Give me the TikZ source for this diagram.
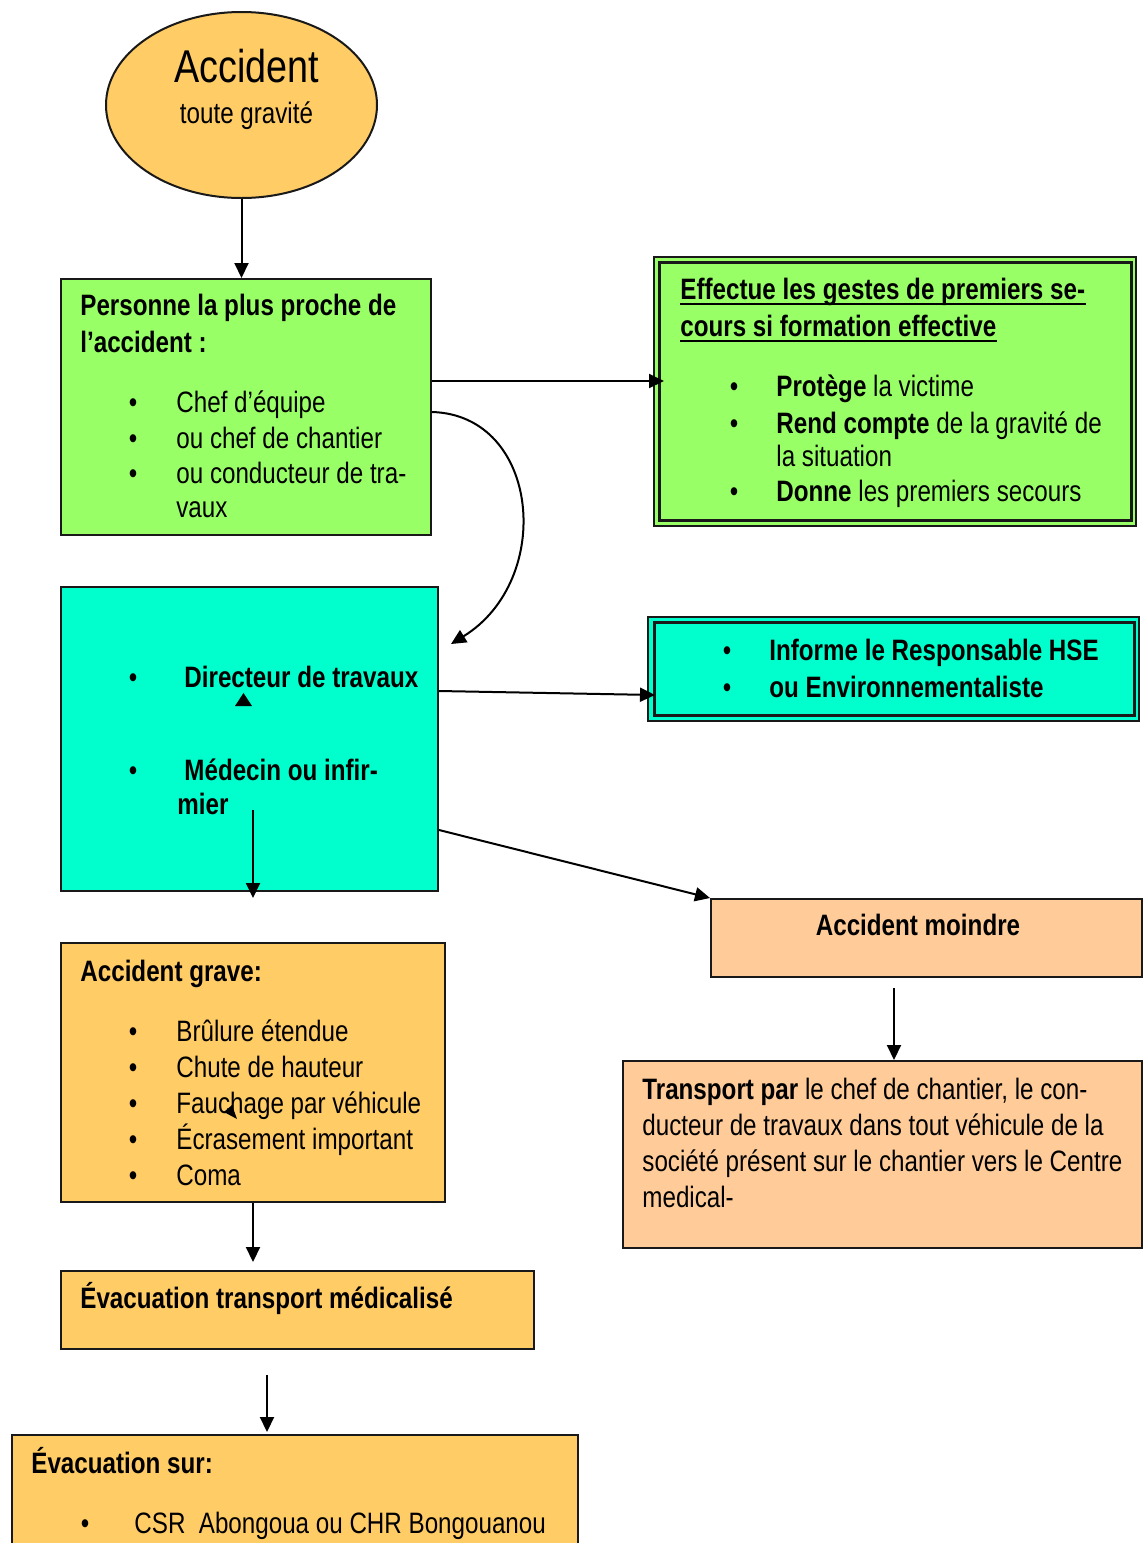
\documentclass[tikz,border=0pt]{standalone}
\usepackage{fontspec}
\setmainfont{Liberation Sans}[FakeStretch=0.82]
\usetikzlibrary{arrows.meta,shapes.geometric}
\definecolor{cvert}{HTML}{99FF66}
\definecolor{cturq}{HTML}{00FFCC}
\definecolor{corange}{HTML}{FFCC66}
\definecolor{cpeche}{HTML}{FFCC99}
\begin{document}
\begin{tikzpicture}[x=0.5pt,y=-0.5pt,
  boite/.style={draw=black!90, line width=1pt, inner sep=0pt, anchor=north west},
  txt/.style={anchor=base west, inner sep=0pt, font=\fontsize{14.75}{18}\selectfont},
  gras/.style={anchor=base west, inner sep=0pt, font=\fontsize{14.75}{18}\selectfont\bfseries},
  puce/.style={anchor=base, inner sep=0pt, font=\fontsize{14.75}{18}\selectfont},
  fleche/.style={line width=1pt, -{Triangle[length=7.5pt,width=7pt]}},
  souligne/.style={line width=1pt}]
\useasboundingbox (0,0) rectangle (1147,1543);
\clip (0,0) rectangle (1147,1543);
\fill[white] (0,0) rectangle (1147,1543);

% --- start ellipse
\node[ellipse, draw=black!90, line width=1pt, fill=corange,
      minimum width=135.5pt, minimum height=93pt, inner sep=0pt] (acc) at (241.5,105) {};
\node[anchor=base, inner sep=0pt, font=\fontsize{23}{26}\selectfont] (acct) at (246.5,82) {Accident};
\node[anchor=base, inner sep=0pt, font=\fontsize{14.75}{18}\selectfont] (accg) at (246.5,123) {toute gravité};

% --- nearest person
\node[boite, fill=cvert, minimum width=185pt, minimum height=128pt] (proche) at (60,278) {};
\node[gras] (proche1) at (80,315) {Personne la plus proche de};
\node[gras] (proche2) at (80,352) {l’accident :};
\foreach \y/\t [count=\i] in {412/{Chef d’équipe}, 448/{ou chef de chantier}, 483/{ou conducteur de tra-}} {
  \node[puce] (procheb\i) at (133,\y) {•};
  \node[txt] (prochei\i) at (176,\y) {\t};
}
\node[txt] (prochei4) at (176,517) {vaux};

% --- first aid box (double frame)
\node[boite, fill=cvert, line width=0.75pt, minimum width=241pt, minimum height=134.5pt] (secours) at (653,256) {};
\node[boite, line width=1.5pt, minimum width=236pt, minimum height=129pt] (secoursin) at (658,261) {};
\node[gras] (sec1) at (680,299) {Effectue les gestes de premiers se-};
\node[gras] (sec2) at (680,336) {cours si formation effective};
\draw[souligne] ([yshift=-2.5pt]sec1.base west) -- ([yshift=-2.5pt]sec1.base east);
\draw[souligne] ([yshift=-2.5pt]sec2.base west) -- ([yshift=-2.5pt]sec2.base east);
\node[puce] (secb1) at (734,396) {•};
\node[txt] (seci1) at (776,396) {\textbf{Protège} la victime};
\node[puce] (secb2) at (734,433) {•};
\node[txt] (seci2) at (776,433) {\textbf{Rend compte} de la gravité de};
\node[txt] (seci3) at (776,466) {la situation};
\node[puce] (secb3) at (734,501) {•};
\node[txt] (seci4) at (776,501) {\textbf{Donne} les premiers secours};

% --- director / doctor
\node[boite, fill=cturq, minimum width=188.5pt, minimum height=152pt] (dir) at (60,586) {};
\node[puce] (dirb1) at (133,687) {•};
\node[gras] (diri1) at (184,687) {Directeur de travaux};
\node[puce] (dirb2) at (133,780) {•};
\node[gras] (diri2) at (184,780) {Médecin ou infir-};
\node[gras] (diri3) at (177,814) {mier};
\fill (235,706) -- (252,706) -- (243.5,693) -- cycle;

% --- HSE box (double frame)
\node[boite, fill=cturq, line width=0.75pt, minimum width=245.5pt, minimum height=52pt] (hse) at (647,616) {};
\node[boite, line width=1.5pt, minimum width=240pt, minimum height=46.5pt] (hsein) at (653,621) {};
\node[puce] (hseb1) at (727,660) {•};
\node[gras] (hsei1) at (769,660) {Informe le Responsable HSE};
\node[puce] (hseb2) at (727,697) {•};
\node[gras] (hsei2) at (769,697) {ou Environnementaliste};

% --- minor accident
\node[boite, fill=cpeche, minimum width=215.5pt, minimum height=39pt] (moindre) at (710,898) {};
\node[anchor=base, inner sep=0pt, font=\fontsize{14.75}{18}\selectfont\bfseries] (moindret) at (918,935) {Accident moindre};

\node[boite, fill=cpeche, minimum width=259.5pt, minimum height=93.5pt] (transport) at (622,1060) {};
\node[txt] (tr1) at (642,1099) {\textbf{Transport par} le chef de chantier, le con-};
\node[txt] (tr2) at (642,1135) {ducteur de travaux dans tout véhicule de la};
\node[txt] (tr3) at (642,1171) {société présent sur le chantier vers le Centre};
\node[txt] (tr4) at (642,1207) {medical-};

% --- serious accident
\node[boite, fill=corange, minimum width=192pt, minimum height=129.5pt] (grave) at (60,942) {};
\node[gras] (grave0) at (80,981) {Accident grave:};
\foreach \y/\t [count=\i] in {1041/{Brûlure étendue}, 1077/{Chute de hauteur}, 1113/{Fauchage par véhicule}, 1149/{Écrasement important}, 1185/{Coma}} {
  \node[puce] (graveb\i) at (133,\y) {•};
  \node[txt] (gravei\i) at (176,\y) {\t};
}
\fill (224,1112) -- (232,1105) -- (237,1119) -- cycle;

\node[boite, fill=corange, minimum width=236.5pt, minimum height=39pt] (evac) at (60,1270) {};
\node[gras] (evact) at (80,1308) {Évacuation transport médicalisé};

\node[boite, fill=corange, minimum width=283pt, minimum height=70pt] (sur) at (11,1434) {};
\node[gras] (surt) at (31,1473) {Évacuation sur:};
\node[puce] (surb) at (85,1533) {•};
\node[txt] (suri) at (134,1533) {CSR\ \ Abongoua ou CHR Bongouanou};

% --- connectors
\draw[fleche] (acc.south) -- (acc.south |- proche.north);
\draw[fleche] (proche.east |- 0,381) -- ([xshift=3pt]secoursin.west |- 0,381);
\draw[fleche] (proche.east |- 0,412) .. controls (540,415) and (555,580) .. (451,644);
\draw[fleche] (dir.east |- 0,691) -- ([xshift=1pt]hsein.west |- 0,695);
\draw[fleche] (dir.east |- 0,830) -- (moindre.north west);
\coordinate (medpied) at (253,810);
\draw[fleche] (medpied) -- ([yshift=-3pt]medpied |- dir.south);
\coordinate (moinpied) at (894,988);
\draw[fleche] (moinpied) -- (moinpied |- transport.north);
\draw[fleche] (grave.south) -- ([yshift=4pt]grave.south |- evac.north);
\coordinate (evacpied) at (267,1375);
\draw[fleche] (evacpied) -- ([yshift=1pt]evacpied |- sur.north);
\end{tikzpicture}
\end{document}
